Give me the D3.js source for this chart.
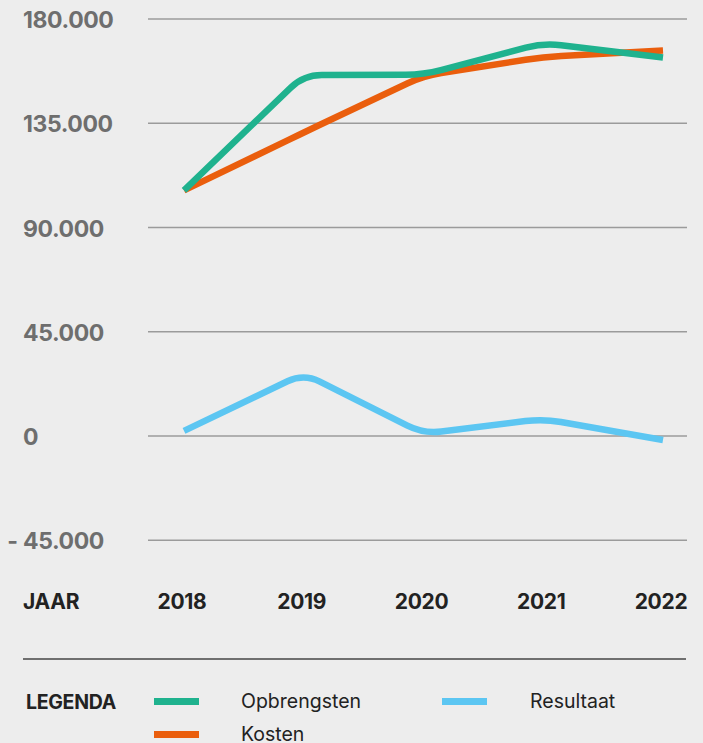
<!DOCTYPE html>
<html>
<head>
<meta charset="utf-8">
<script src="https://cdn.jsdelivr.net/npm/d3@7"></script>
<style>
  html, body { margin: 0; padding: 0; background: #ededed; }
  svg { display: block; font-family: Inter, "Noto Sans", sans-serif; }
</style>
</head>
<body>
<div id="chart"></div>
<script>
const years = ["2018", "2019", "2020", "2021", "2022"]
const opbrengsten = [106000, 155800, 156000, 169600, 163400]
const kosten = [106000, 131000, 155500, 163600, 166400]
const resultaat = [2200, 27000, 1000, 7400, -1700]
const yTicks = [-45000, 0, 45000, 90000, 135000, 180000]

const series = [
  {name: "Opbrengsten", values: opbrengsten, color: "#1fb28e"},
  {name: "Kosten", values: kosten, color: "#ea5e0d"},
  {name: "Resultaat", values: resultaat, color: "#5cc6f2"}
]
// draw order: kosten under opbrengsten
const drawOrder = [series[1], series[0], series[2]]

const W = 703, H = 743

const svg = d3.select("#chart").append("svg")
    .attr("width", W)
    .attr("height", H)

svg.append("rect").attr("width", W).attr("height", H).attr("fill", "#ededed")

const x = d3.scalePoint().domain(years).range([184, 663])
const y = d3.scaleLinear().domain([0, 180000]).range([436, 19])

const nl = d3.formatLocale({decimal: ",", thousands: ".", grouping: [3], currency: ["", ""]})
const fmt = nl.format(",d")

// straight segments, corners rounded off a little (like the original tool)
function curveRounded(context) {
  const R = 18
  let pts = []
  return {
    areaStart() {}, areaEnd() {},
    lineStart() { pts = [] },
    point(px, py) { pts.push([+px, +py]) },
    lineEnd() {
      if (!pts.length) return
      context.moveTo(pts[0][0], pts[0][1])
      for (let i = 1; i < pts.length - 1; i++) {
        const p = pts[i - 1], c = pts[i], n = pts[i + 1]
        const d1 = Math.hypot(c[0] - p[0], c[1] - p[1])
        const d2 = Math.hypot(n[0] - c[0], n[1] - c[1])
        const r = Math.min(R, d1 / 2, d2 / 2)
        const ax = c[0] - (c[0] - p[0]) / d1 * r, ay = c[1] - (c[1] - p[1]) / d1 * r
        const bx = c[0] + (n[0] - c[0]) / d2 * r, by = c[1] + (n[1] - c[1]) / d2 * r
        context.lineTo(ax, ay)
        context.quadraticCurveTo(c[0], c[1], bx, by)
      }
      const last = pts[pts.length - 1]
      context.lineTo(last[0], last[1])
    }
  }
}

// gridlines
svg.append("g").selectAll("line")
  .data(yTicks).enter()
  .append("line")
    .attr("x1", 148).attr("x2", 687)
    .attr("y1", d => y(d)).attr("y2", d => y(d))
    .attr("stroke", "#9b9b9b")
    .attr("stroke-width", 1.5)

// tick labels
const tl = svg.append("g")
    .attr("font-weight", 700)
    .attr("font-size", 23)
    .attr("fill", "#6e6e6e")
tl.selectAll("text.v")
  .data(yTicks).enter()
  .append("text")
    .attr("class", "v")
    .attr("x", 23)
    .attr("y", d => y(d) + 9)
    .attr("letter-spacing", -0.4)
    .text(d => fmt(Math.abs(d)))
tl.selectAll("text.neg")
  .data(yTicks.filter(d => d < 0)).enter()
  .append("text")
    .attr("class", "neg")
    .attr("x", 18)
    .attr("y", d => y(d) + 9)
    .attr("text-anchor", "end")
    .text("-")

// lines
const line = d3.line()
    .x((d, i) => x(years[i]))
    .y(d => y(d))
    .curve(curveRounded)

svg.append("g").selectAll("path")
  .data(drawOrder).enter()
  .append("path")
    .attr("d", d => line(d.values))
    .attr("fill", "none")
    .attr("stroke", d => d.color)
    .attr("stroke-width", 6.5)
    .attr("stroke-linejoin", "round")
    .attr("stroke-linecap", "butt")

// x labels
const xl = svg.append("g")
    .attr("font-weight", 700)
    .attr("font-size", 21)
    .attr("fill", "#222")
xl.append("text").attr("x", 23).attr("y", 609).attr("letter-spacing", -0.3).text("JAAR")
xl.selectAll("text.yr")
  .data(years).enter()
  .append("text")
    .attr("class", "yr")
    .attr("x", d => x(d) - 2)
    .attr("y", 609)
    .attr("text-anchor", "middle")
    .attr("letter-spacing", -0.3)
    .text(d => d)

// legend
svg.append("line")
    .attr("x1", 23).attr("x2", 686)
    .attr("y1", 659).attr("y2", 659)
    .attr("stroke", "#444")
    .attr("stroke-width", 1.5)

svg.append("text")
    .attr("x", 26).attr("y", 709)
    .attr("font-weight", 700)
    .attr("font-size", 19.5)
    .attr("letter-spacing", -0.3)
    .attr("fill", "#222")
    .text("LEGENDA")

const legPos = [
  {s: series[0], sx: 154, tx: 241, y: 701.5},
  {s: series[2], sx: 442, tx: 530, y: 701.5},
  {s: series[1], sx: 154, tx: 241, y: 734.5}
]
const lg = svg.append("g").selectAll("g")
  .data(legPos).enter()
  .append("g")
lg.append("rect")
    .attr("x", d => d.sx)
    .attr("y", d => d.y - 3.5)
    .attr("width", 45)
    .attr("height", 7)
    .attr("fill", d => d.s.color)
lg.append("text")
    .attr("x", d => d.tx)
    .attr("y", d => d.y + 6)
    .attr("font-size", 19.5)
    .attr("fill", "#222")
    .text(d => d.s.name)
</script>
</body>
</html>
